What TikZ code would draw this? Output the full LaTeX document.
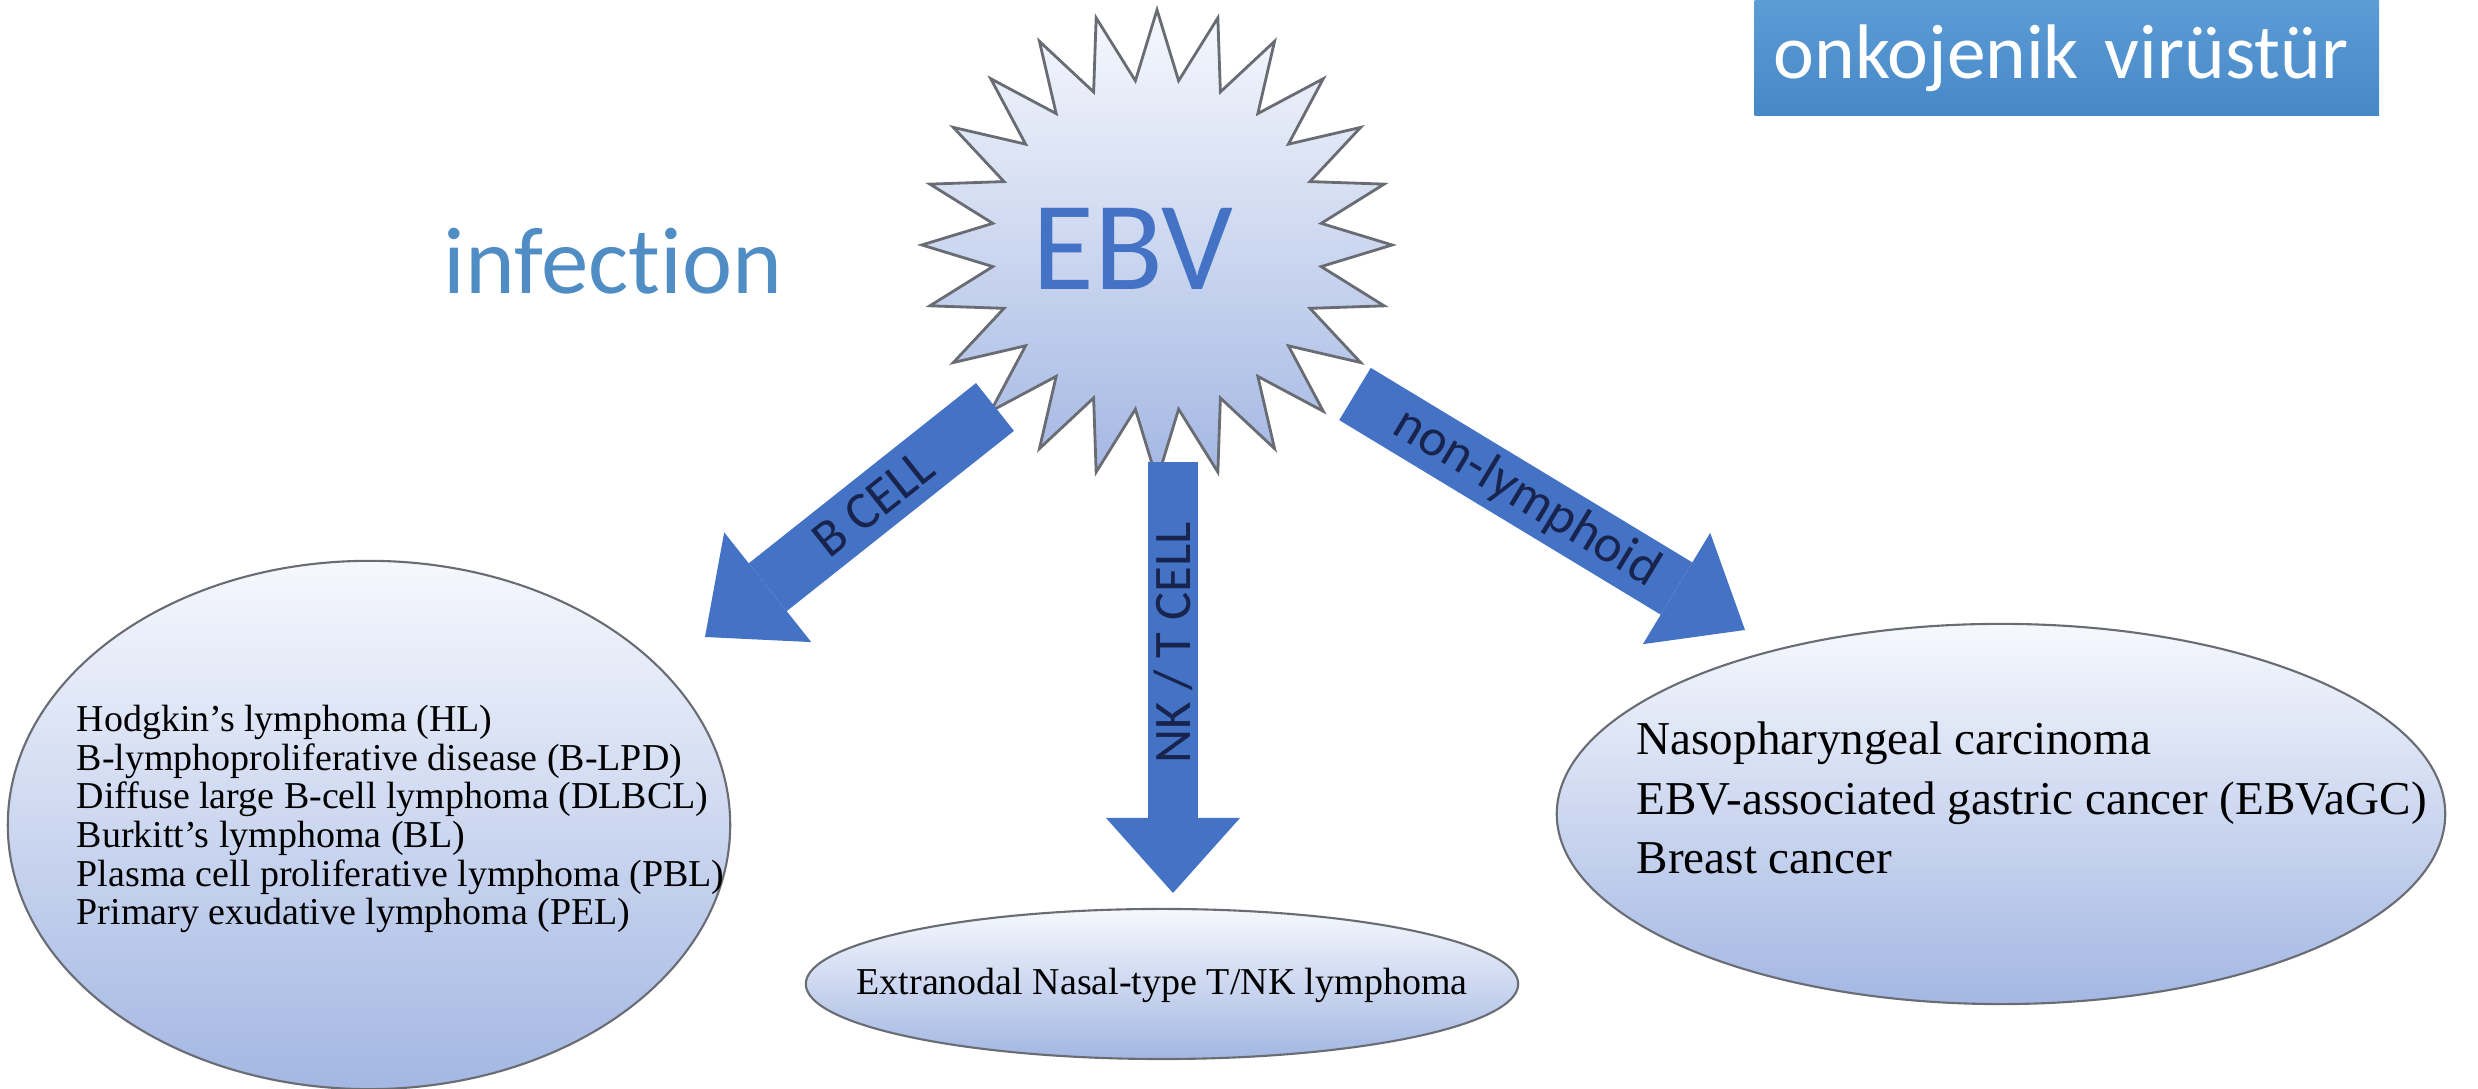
\documentclass[tikz,border=0pt]{standalone}
\usepackage{fontspec}
\setmainfont{Liberation Serif}
\newfontfamily\calfont{Carlito}[Ligatures=NoCommon]
\usetikzlibrary{arrows.meta, shapes.geometric}

\definecolor{arrowblue}{RGB}{68,114,196}
\definecolor{labelnavy}{RGB}{24,36,78}
\definecolor{infblue}{RGB}{79,141,196}
\definecolor{shadetop}{RGB}{246,248,253}
\definecolor{shadebot}{RGB}{163,183,227}
\definecolor{rimgray}{RGB}{105,108,115}
\definecolor{boxtop}{RGB}{92,157,214}
\definecolor{boxbot}{RGB}{70,135,199}

\begin{document}
\begin{tikzpicture}[x=0.01cm, y=0.01cm,
    bigarrow/.style={draw=arrowblue, line width=0.61cm,
      -{Triangle[width=1.4cm, length=0.8cm, line width=0pt]}},
    arrowlabel/.style={font=\calfont\fontsize{15}{15}\selectfont,
      text=labelnavy, inner sep=0pt},
    disease/.style={ellipse, draw=rimgray, line width=0.6pt,
      top color=shadetop, bottom color=shadebot, inner sep=0pt},
    listtext/.style={align=left, inner sep=0pt, text=black}]
  \useasboundingbox (0,0) rectangle (2478,1089);

  % virus in the middle
  \node[star, star points=24, star point ratio=1.42, minimum size=4.7cm,
        inner sep=0pt, draw=rimgray, line width=0.8pt,
        top color=shadetop, bottom color=shadebot] (burst) at (1157,844) {};
  \node[font=\calfont\fontsize{36}{36}\selectfont, text=arrowblue] (ebv) at (1133,840) {EBV};
  \node[font=\calfont\fontsize{27}{27}\selectfont, text=infblue, anchor=base]
    (infection) at (613,795) {infection};

  \node[anchor=north west, minimum width=6.24cm, minimum height=1.15cm,
        text width=5.86cm, inner xsep=0.19cm, align=left,
        top color=boxtop, bottom color=boxbot, text=white,
        font=\calfont\fontsize{22}{22}\selectfont] (onko) at (1754,1089) {onkojenik virüstür};

  % the three groups of tumours
  \node[disease, minimum width=7.22cm, minimum height=5.28cm] (bly) at (369,264) {};
  \node[listtext, font=\fontsize{10.8}{11}\selectfont, anchor=west] (blytext) at (76,270)
    {Hodgkin's lymphoma (HL)\\
     B-lymphoproliferative disease (B-LPD)\\
     Diffuse large B-cell lymphoma (DLBCL)\\
     Burkitt's lymphoma (BL)\\
     Plasma cell proliferative lymphoma (PBL)\\
     Primary exudative lymphoma (PEL)};

  \node[disease, minimum width=7.12cm, minimum height=1.5cm] (nkly) at (1162,105) {};
  \node[listtext, font=\fontsize{10.8}{11}\selectfont] (nklytext) at (1162,104)
    {Extranodal Nasal-type T/NK lymphoma};

  \node[disease, minimum width=8.88cm, minimum height=3.8cm] (nonly) at (2001,275) {};
  \node[listtext, font=\fontsize{13.4}{17}\selectfont, anchor=west] (nonlytext) at (1636,291)
    {Nasopharyngeal carcinoma\\
     EBV-associated gastric cancer (EBVaGC)\\
     Breast cancer};

  % block arrows
  \coordinate (bfrom) at (995,682);
  \coordinate (bto) at (705,452);
  \coordinate (nkfrom) at (1173,627);
  \coordinate (nkto) at (1173,196);
  \coordinate (nlfrom) at (1355,695);
  \coordinate (nlto) at (1745,459);

  \draw[bigarrow] (bfrom) -- (bto) node[arrowlabel, pos=0.42, sloped] {B CELL};
  \draw[bigarrow, line width=0.5cm, -{Triangle[width=1.34cm, length=0.75cm, line width=0pt]}]
    (nkfrom) -- (nkto) node[arrowlabel, pos=0.42, rotate=90] {NK / T CELL};
  \draw[bigarrow, -{Triangle[width=1.3cm, length=0.8cm, line width=0pt]}]
    (nlfrom) -- (nlto) node[arrowlabel, pos=0.44, sloped] {non-lymphoid};
\end{tikzpicture}
\end{document}
